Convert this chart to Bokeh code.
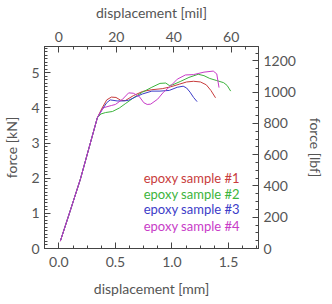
from bokeh.plotting import figure
from bokeh.models import Range1d, LinearAxis, SingleIntervalTicker, Label, PrintfTickFormatter
from bokeh.embed import file_html
from bokeh.resources import INLINE

# ---- data (displacement in mm, force in kN) ----
base_x = [0.013, 0.10, 0.19, 0.34]
base_y = [0.21, 1.07, 1.97, 3.72]

red_x = base_x + [0.382, 0.423, 0.464, 0.505, 0.546, 0.587, 0.658, 0.740, 0.822, 0.914, 0.986, 1.068, 1.129, 1.191, 1.252, 1.303, 1.344, 1.385]
red_y = base_y + [3.998, 4.23, 4.31, 4.30, 4.22, 4.21, 4.35, 4.47, 4.52, 4.55, 4.60, 4.68, 4.74, 4.76, 4.74, 4.66, 4.50, 4.29]

green_x = base_x + [0.372, 0.413, 0.474, 0.535, 0.587, 0.669, 0.740, 0.822, 0.894, 0.945, 0.976, 1.007, 1.078, 1.150, 1.232, 1.283, 1.334, 1.396, 1.457, 1.488, 1.519]
green_y = base_y + [3.83, 3.87, 3.90, 4.00, 4.12, 4.31, 4.45, 4.59, 4.70, 4.71, 4.64, 4.66, 4.76, 4.87, 4.96, 4.92, 4.84, 4.78, 4.72, 4.64, 4.48]

blue_x = base_x + [0.382, 0.423, 0.454, 0.515, 0.576, 0.617, 0.689, 0.740, 0.822, 0.894, 0.976, 1.047, 1.099, 1.129, 1.160, 1.191, 1.222]
blue_y = base_y + [3.95, 4.15, 4.23, 4.20, 4.20, 4.22, 4.33, 4.40, 4.48, 4.48, 4.50, 4.59, 4.62, 4.57, 4.45, 4.30, 4.18]

mag_x = base_x + [0.372, 0.397, 0.464, 0.50, 0.56, 0.617, 0.658, 0.710, 0.751, 0.781, 0.812, 0.873, 0.925, 0.986, 1.047, 1.119, 1.191, 1.283, 1.365, 1.396, 1.416]
mag_y = base_y + [3.90, 4.01, 4.07, 4.10, 4.24, 4.43, 4.42, 4.33, 4.15, 4.10, 4.11, 4.25, 4.45, 4.62, 4.82, 4.94, 4.95, 5.02, 5.05, 4.97, 4.58]

labels = ["epoxy sample #1", "epoxy sample #2", "epoxy sample #3", "epoxy sample #4"]
colors = ["#c83c3c", "#3cb43c", "#3c3cc8", "#c83cc8"]

MM_PER_MIL = 0.0254
KN_PER_LBF = 0.0044482

x0, x1 = -0.127, 1.765
y0, y1 = 0.0, 5.75

FONT = "Lato"
TXT = "#555555"
AX = "#444444"

p = figure(frame_width=214, frame_height=202, output_backend="svg", toolbar_location=None,
           x_range=Range1d(x0, x1), y_range=Range1d(y0, y1),
           min_border_left=40, min_border_top=41, min_border_right=62, min_border_bottom=45)
p.extra_x_ranges = {"mil": Range1d(x0 / MM_PER_MIL, x1 / MM_PER_MIL)}
p.extra_y_ranges = {"lbf": Range1d(y0 / KN_PER_LBF, y1 / KN_PER_LBF)}
p.grid.visible = False
p.outline_line_color = AX
p.background_fill_color = "white"
p.border_fill_color = "white"

bottom = p.below[0]
left = p.left[0]
bottom.ticker = SingleIntervalTicker(interval=0.5, num_minor_ticks=4)
bottom.formatter = PrintfTickFormatter(format="%.1f")
left.ticker = SingleIntervalTicker(interval=1, num_minor_ticks=10)
bottom.axis_label = "displacement [mm]"
left.axis_label = "force [kN]"

top = LinearAxis(x_range_name="mil", axis_label="displacement [mil]",
                 ticker=SingleIntervalTicker(interval=20, num_minor_ticks=4))
right = LinearAxis(y_range_name="lbf", axis_label="force [lbf]",
                   ticker=SingleIntervalTicker(interval=200, num_minor_ticks=4))
p.add_layout(top, "above")
p.add_layout(right, "right")

for ax in [bottom, left, top, right]:
    ax.major_tick_in = 6
    ax.major_tick_out = 0
    ax.minor_tick_in = 3
    ax.minor_tick_out = 0
    ax.axis_line_color = AX
    ax.major_tick_line_color = AX
    ax.minor_tick_line_color = AX
    ax.major_label_text_font = FONT
    ax.major_label_text_font_size = "14px"
    ax.major_label_text_color = TXT
    ax.axis_label_text_font = FONT
    ax.axis_label_text_font_size = "14px"
    ax.axis_label_text_color = TXT
    ax.axis_label_text_font_style = "normal"
    ax.major_label_standoff = 5
    ax.axis_label_standoff = 8

bottom.major_label_standoff = 8
bottom.axis_label_standoff = 10

for xs, ys, c in [(red_x, red_y, colors[0]), (green_x, green_y, colors[1]),
                  (blue_x, blue_y, colors[2]), (mag_x, mag_y, colors[3])]:
    p.line(xs, ys, line_color=c, line_width=1)

leg_y = [2.02, 1.56, 1.12, 0.65]
for lab, c, ly in zip(labels, colors, leg_y):
    p.add_layout(Label(x=0.75, y=ly, text=lab, text_color=c, text_font=FONT,
                       text_font_size="13px", text_baseline="middle", text_align="left"))

open("out.html", "w").write(file_html(p, INLINE))
